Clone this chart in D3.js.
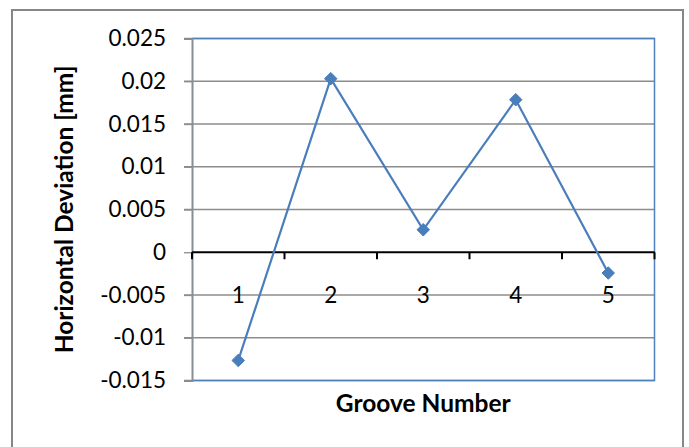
<!DOCTYPE html>
<html>
<head>
<meta charset="utf-8">
<script src="https://cdn.jsdelivr.net/npm/d3@7"></script>
<style>
  html, body { margin: 0; padding: 0; background: #fff; }
  svg { display: block; }
  text { font-family: Lato, "Open Sans", sans-serif; }
</style>
</head>
<body>
<svg id="chart" width="689" height="447"></svg>
<script>
const categories = ["1", "2", "3", "4", "5"];
const deviation = [-0.01265, 0.0203, 0.00263, 0.01784, -0.00243];
const yTicks = [-0.015, -0.01, -0.005, 0, 0.005, 0.01, 0.015, 0.02, 0.025];
const yTickLabels = ["-0.015", "-0.01", "-0.005", "0", "0.005", "0.01", "0.015", "0.02", "0.025"];
const xTitle = "Groove Number";
const yTitle = "Horizontal Deviation [mm]";

const svg = d3.select("#chart");
const plot = { left: 192, right: 654.5, top: 38.5, bottom: 380.5 };

const x = d3.scaleBand().domain(categories).range([plot.left, plot.right]);
const y = d3.scaleLinear().domain([-0.015, 0.025]).range([plot.bottom, plot.top]);

// outer frame
svg.append("rect")
  .attr("x", 12).attr("y", 10).attr("width", 671).attr("height", 460)
  .attr("fill", "none").attr("stroke", "#878787").attr("stroke-width", 2);

// gridlines
svg.append("g")
  .selectAll("line")
  .data(yTicks.filter(d => d !== 0))
  .join("line")
  .attr("x1", plot.left - 8).attr("x2", plot.right)
  .attr("y1", d => y(d)).attr("y2", d => y(d))
  .attr("stroke", "#8c8c8c").attr("stroke-width", 1.3);

// plot border (top/right/bottom blue)
svg.append("path")
  .attr("d", `M${plot.left},${y(0.025)}H${plot.right}V${y(-0.015)}H${plot.left}`)
  .attr("fill", "none").attr("stroke", "#4f81bd").attr("stroke-width", 1.5);

// y axis
const yAxis = d3.axisLeft(y)
  .tickValues(yTicks)
  .tickFormat((d, i) => yTickLabels[i])
  .tickSize(8)
  .tickPadding(18);
const gy = svg.append("g").attr("transform", `translate(${plot.left},0)`).call(yAxis);
gy.select(".domain").attr("stroke", "#868e96").attr("stroke-width", 2);
gy.selectAll(".tick line").attr("stroke", "#8c8c8c").attr("stroke-width", 1.3);
gy.selectAll(".tick text")
  .attr("font-size", 22.5).attr("fill", "#000")
  .style("font-family", "Lato, sans-serif");

// x axis at zero
const xEdges = categories.map(c => x(c)).concat([plot.right]);
const gx = svg.append("g");
gx.append("line")
  .attr("x1", plot.left).attr("x2", plot.right)
  .attr("y1", y(0)).attr("y2", y(0))
  .attr("stroke", "#000").attr("stroke-width", 2.2);
gx.selectAll("line.tk")
  .data(xEdges)
  .join("line").attr("class", "tk")
  .attr("x1", d => d).attr("x2", d => d)
  .attr("y1", y(0)).attr("y2", y(0) + 7)
  .attr("stroke", "#000").attr("stroke-width", 2);
gx.selectAll("text")
  .data(categories)
  .join("text")
  .attr("x", d => x(d) + x.bandwidth() / 2)
  .attr("y", y(-0.005))
  .attr("dy", "0.35em")
  .attr("text-anchor", "middle")
  .attr("font-size", 22.5)
  .attr("fill", "#000")
  .text(d => d);

// line
const line = d3.line()
  .x((d, i) => x(categories[i]) + x.bandwidth() / 2)
  .y(d => y(d));
svg.append("path")
  .datum(deviation)
  .attr("d", line)
  .attr("fill", "none")
  .attr("stroke", "#4a7ebb")
  .attr("stroke-width", 2.2);

// markers
svg.append("g")
  .selectAll("path")
  .data(deviation)
  .join("path")
  .attr("d", d3.symbol().type(d3.symbolDiamond2).size(100))
  .attr("transform", (d, i) => `translate(${x(categories[i]) + x.bandwidth() / 2},${y(d)})`)
  .attr("fill", "#4a7ebb")
  .attr("stroke", "#4a7ebb")
  .attr("stroke-width", 1);

// titles
svg.append("text")
  .attr("x", (plot.left + plot.right) / 2)
  .attr("y", 412)
  .attr("text-anchor", "middle")
  .attr("font-size", 24.5)
  .attr("font-weight", "bold")
  .attr("fill", "#000")
  .text(xTitle);

svg.append("text")
  .attr("transform", `translate(73,${(plot.top + plot.bottom) / 2}) rotate(-90)`)
  .attr("text-anchor", "middle")
  .attr("font-size", 24.5)
  .attr("font-weight", "bold")
  .attr("fill", "#000")
  .text(yTitle);
</script>
</body>
</html>
